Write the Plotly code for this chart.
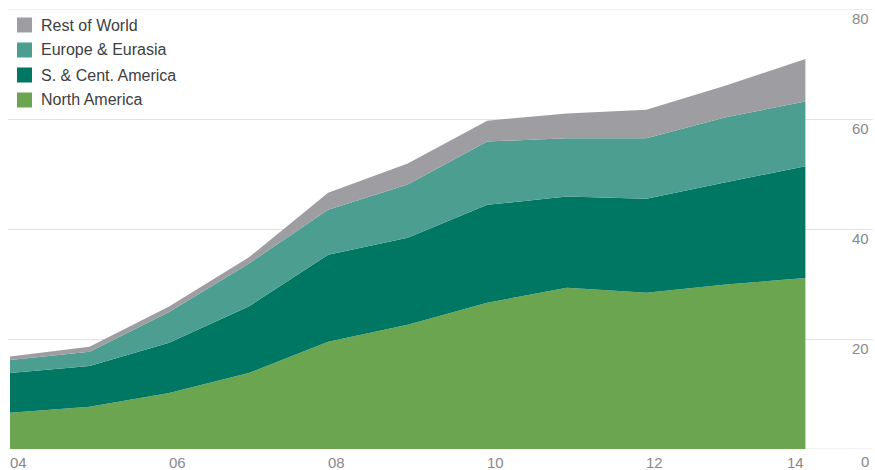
import plotly.graph_objects as go

# Years on the x axis and the stacked series (values per year)
years = [2004, 2005, 2006, 2007, 2008, 2009, 2010, 2011, 2012, 2013, 2014]
north_america = [6.6, 7.7, 10.2, 13.8, 19.5, 22.6, 26.6, 29.3, 28.4, 29.9, 31.1]
s_cent_america = [7.2, 7.4, 9.1, 12.1, 15.8, 15.8, 17.8, 16.6, 17.1, 18.6, 20.3]
europe_eurasia = [2.4, 2.6, 5.6, 7.8, 8.2, 9.7, 11.5, 10.6, 11.0, 11.8, 11.8]
rest_of_world = [0.6, 0.9, 1.0, 1.1, 3.1, 3.8, 3.8, 4.5, 5.2, 5.8, 7.7]

series_names = ["North America", "S. & Cent. America", "Europe & Eurasia", "Rest of World"]
series_values = [north_america, s_cent_america, europe_eurasia, rest_of_world]
series_colors = ["#6ba54f", "#007762", "#4b9e90", "#9e9da1"]

x_tick_years = [2004, 2006, 2008, 2010, 2012, 2014]
x_tick_labels = ["04", "06", "08", "10", "12", "14"]
y_tick_values = [0, 20, 40, 60, 80]
y_tick_labels = ["0", "20", "40", "60", "80"]

FONT = "Liberation Sans, Arial, Helvetica, sans-serif"
LABEL_GREY = "#8a8a8a"
GRID = "#e2e2e2"

fig = go.Figure()
for name, vals, col in zip(series_names, series_values, series_colors):
    fig.add_trace(go.Scatter(
        x=years, y=vals, name=name, mode="none",
        stackgroup="one", fillcolor=col, line=dict(width=0),
        showlegend=False, hoverinfo="x+y+name",
    ))

x_range = [2003.975, 2014.85]

fig.update_layout(
    width=875, height=470,
    margin=dict(l=8, r=2, t=9, b=21),
    paper_bgcolor="white", plot_bgcolor="white",
    font=dict(family=FONT, size=15, color=LABEL_GREY),
    xaxis=dict(range=x_range, showgrid=False, zeroline=False,
               showticklabels=False, ticks="", showline=False, fixedrange=True),
    yaxis=dict(range=[0, 80], tickvals=y_tick_values, showgrid=True,
               gridcolor=GRID, gridwidth=1, zeroline=False,
               showticklabels=False, ticks="", showline=False, fixedrange=True),
    showlegend=False,
)

annotations = []
shapes = []

# gridlines at the ends of the value range
for v in (y_tick_values[0], y_tick_values[-1]):
    shapes.append(dict(type="line", xref="paper", yref="y", x0=0, x1=1,
                       y0=v, y1=v, line=dict(color=GRID, width=1), layer="below"))

# y-axis labels, right-aligned just under each gridline at the right edge
for v, lab in zip(y_tick_values, y_tick_labels):
    annotations.append(dict(
        x=1, xref="paper", y=v, yref="y", text=lab, showarrow=False,
        xanchor="right", yanchor="top", yshift=1 if v else -2, xshift=-2,
        font=dict(family=FONT, size=15, color=LABEL_GREY),
    ))
# x-axis labels, left-aligned at each year; last one ends at the data edge
for i, (yr, lab) in enumerate(zip(x_tick_years, x_tick_labels)):
    last = i == len(x_tick_years) - 1
    annotations.append(dict(
        x=yr, xref="x", y=0, yref="paper", text=lab, showarrow=False,
        xanchor="right" if last else "left", yanchor="top", yshift=-3,
        xshift=1 if last else -2,
        font=dict(family=FONT, size=15, color=LABEL_GREY),
    ))

# Legend: coloured squares with labels, top series first
legend_order = list(range(len(series_names)))[::-1]
for row, idx in enumerate(legend_order):
    cy = 25 + row * 25  # pixel centre from top of the figure
    y_paper_top = 1 - (cy - 7.5 - 9) / 440
    y_paper_bot = 1 - (cy + 7.5 - 9) / 440
    shapes.append(dict(
        type="rect", xref="paper", yref="paper",
        x0=(17 - 8) / 865, x1=(32 - 8) / 865,
        y0=y_paper_bot, y1=y_paper_top,
        fillcolor=series_colors[idx], line=dict(width=0), layer="above",
    ))
    annotations.append(dict(
        x=(39 - 8) / 865, xref="paper", y=1 - (cy - 9) / 440, yref="paper",
        text=series_names[idx], showarrow=False, xanchor="left", yanchor="middle",
        font=dict(family=FONT, size=16, color="#404040"),
    ))

fig.update_layout(annotations=annotations, shapes=shapes)

fig.write_html("out.html")
